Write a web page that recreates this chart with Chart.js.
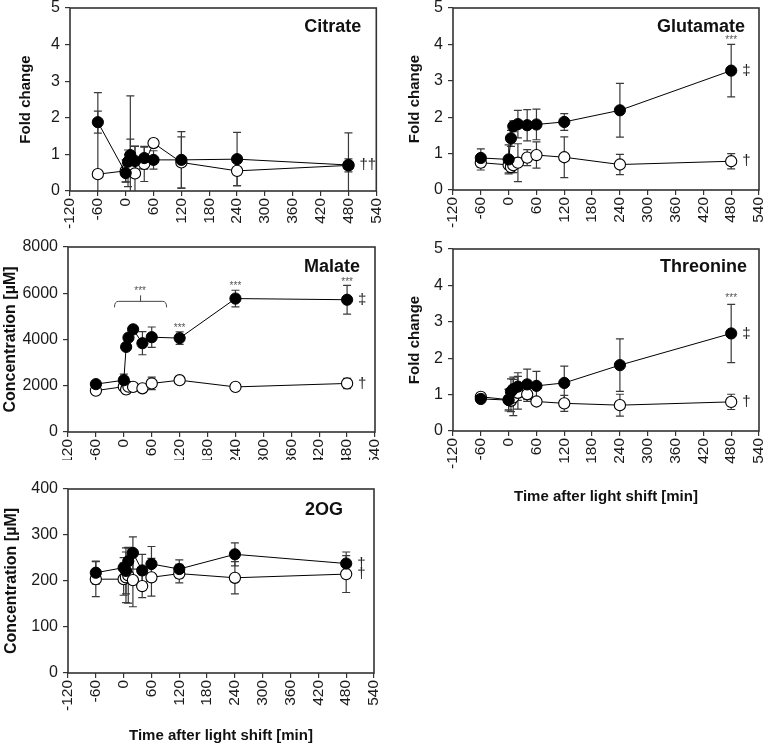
<!DOCTYPE html>
<html>
<head>
<meta charset="utf-8">
<script src="https://cdn.jsdelivr.net/npm/chart.js@4.4.1/dist/chart.umd.min.js"></script>
<style>
  html, body { margin: 0; padding: 0; background: #fff; overflow: hidden; }
  #wrap { position: relative; width: 766px; height: 745px; }
  canvas { position: absolute; }
</style>
</head>
<body>
<div id="wrap">
  <canvas id="citrate"></canvas>
  <canvas id="glutamate"></canvas>
  <canvas id="malate"></canvas>
  <canvas id="threonine"></canvas>
  <canvas id="og"></canvas>
</div>
<script>
// sampling times (min after light shift)
const times = [-60, 0, 5, 10, 20, 40, 60, 120, 240, 480];
const xTickValues = [-120, -60, 0, 60, 120, 180, 240, 300, 360, 420, 480, 540];

// filled circles = light shift, open circles = control
const citrateShift = [1.88, 0.49, 0.80, 0.98, 0.82, 0.90, 0.85, 0.85, 0.87, 0.71];
const citrateShiftSd = [0.30, 0.25, 0.20, 0.44, 0.40, 0.30, 0.25, 0.77, 0.73, 0.88];
const citrateCtrl = [0.46, 0.55, 0.62, 0.70, 0.48, 0.74, 1.31, 0.78, 0.55, 0.70];
const citrateCtrlSd = [2.23, 0.30, 0.50, 1.90, 0.75, 0.48, 0.10, 0.70, 0.40, 0.18];

const glutamateShift = [0.88, 0.84, 1.42, 1.75, 1.81, 1.78, 1.80, 1.87, 2.19, 3.28];
const glutamateShiftSd = [0.25, 0.40, 0.22, 0.15, 0.38, 0.43, 0.42, 0.23, 0.74, 0.72];
const glutamateCtrl = [0.75, 0.69, 0.63, 0.68, 0.75, 0.89, 0.96, 0.90, 0.70, 0.79];
const glutamateCtrlSd = [0.20, 0.22, 0.15, 0.20, 0.52, 0.22, 0.36, 0.56, 0.28, 0.21];

const malateShift = [2070, 2240, 3680, 4080, 4440, 3840, 4100, 4060, 5770, 5720];
const malateShiftSd = [120, 260, 150, 150, 100, 500, 440, 270, 360, 620];
const malateCtrl = [1790, 1960, 1840, 1960, 1950, 1890, 2100, 2240, 1950, 2100];
const malateCtrlSd = [80, 150, 180, 120, 100, 150, 270, 80, 80, 220];

const threonineShift = [0.88, 0.85, 1.08, 1.15, 1.22, 1.28, 1.24, 1.32, 1.81, 2.68];
const threonineShiftSd = [0.08, 0.30, 0.35, 0.33, 0.38, 0.42, 0.40, 0.46, 0.72, 0.80];
const threonineCtrl = [0.94, 0.86, 0.83, 0.92, 1.05, 1.01, 0.81, 0.76, 0.71, 0.80];
const threonineCtrlSd = [0.10, 0.28, 0.30, 0.50, 0.45, 0.20, 0.05, 0.22, 0.30, 0.21];

const ogShift = [218, 229, 222, 243, 261, 223, 237, 226, 258, 238];
const ogShiftSd = [25, 22, 50, 30, 35, 35, 38, 20, 25, 25];
const ogCtrl = [204, 204, 208, 212, 202, 189, 208, 216, 207, 215];
const ogCtrlSd = [38, 35, 55, 60, 58, 25, 41, 20, 35, 40];

// significance marks: [time, value, text]
const glutamateSig = [[480, 4.17, '***'], [480, 3.28, '‡'], [480, 0.79, '†']];
const citrateSig = [[480, 0.71, '††']];
const malateSig = [[35, 6160, '***'], [120, 4570, '***'], [240, 6380, '***'], [480, 6560, '***'], [480, 5720, '‡'], [480, 2100, '†']];
const malateBracket = [-20, 92, 5650];
const threonineSig = [[480, 3.69, '***'], [480, 2.68, '‡'], [480, 0.80, '†']];
const ogSig = [[480, 238, '†'], [480, 215, '†']];

const FONT = "'Liberation Sans', Arial, sans-serif";

function pts(vals) {
  return vals.map((v, i) => ({ x: times[i], y: v }));
}

const extras = {
  id: 'extras',
  beforeDatasetsDraw(chart) {
    const { ctx, chartArea: a, scales: { x, y } } = chart;
    ctx.save();
    ctx.beginPath();
    ctx.rect(a.left, a.top - 1, a.right - a.left, a.bottom - a.top + 1);
    ctx.clip();
    ctx.strokeStyle = '#3a3a3a';
    ctx.lineWidth = 1.2;
    chart.data.datasets.forEach(ds => {
      ds.data.forEach((p, i) => {
        const px = x.getPixelForValue(p.x);
        const t = y.getPixelForValue(p.y + ds.sd[i]);
        const b = y.getPixelForValue(p.y - ds.sd[i]);
        ctx.beginPath();
        ctx.moveTo(px, t); ctx.lineTo(px, b);
        ctx.moveTo(px - 4, t); ctx.lineTo(px + 4, t);
        ctx.moveTo(px - 4, b); ctx.lineTo(px + 4, b);
        ctx.stroke();
      });
    });
    ctx.restore();
  },
  afterDraw(chart) {
    const o = chart.options.plugins.extras;
    const { ctx, chartArea: a, scales: { x, y } } = chart;
    ctx.save();
    ctx.strokeStyle = '#333';
    ctx.lineWidth = 1.6;
    ctx.strokeRect(a.left, a.top, a.right - a.left, a.bottom - a.top);

    ctx.fillStyle = '#111';
    ctx.font = 'bold 18px ' + FONT;
    ctx.textAlign = 'right';
    ctx.textBaseline = 'middle';
    ctx.fillText(o.title, a.right - o.titleRight, a.top + o.titleDy);

    o.sig.forEach(([t, v, txt]) => {
      const px = x.getPixelForValue(t), py = y.getPixelForValue(v);
      if (txt === '***') {
        ctx.font = '10px ' + FONT;
        ctx.fillStyle = '#555';
        ctx.textAlign = 'center';
        ctx.fillText(txt, px, py + 2);
      } else {
        ctx.font = '15px ' + FONT;
        ctx.fillStyle = '#222';
        ctx.textAlign = 'left';
        ctx.fillText(txt, px + 11, py);
      }
    });

    if (o.bracket) {
      const [x0, x1, v] = o.bracket;
      const l = x.getPixelForValue(x0), r = x.getPixelForValue(x1);
      const m = (l + r) / 2, py = y.getPixelForValue(v);
      ctx.strokeStyle = '#444';
      ctx.lineWidth = 1;
      ctx.beginPath();
      ctx.moveTo(l, py + 6); ctx.quadraticCurveTo(l, py, l + 4, py);
      ctx.lineTo(r - 4, py); ctx.quadraticCurveTo(r, py, r, py + 6);
      ctx.moveTo(m, py); ctx.lineTo(m, py - 6);
      ctx.stroke();
    }
    ctx.restore();
  }
};

function makePanel(p) {
  const cv = document.getElementById(p.id);
  cv.width = p.box.w;
  cv.height = p.box.h;
  cv.style.left = p.box.l + 'px';
  cv.style.top = p.box.t + 'px';

  const yWidth = p.area.l - p.box.l - p.padL;
  const xHeight = p.box.t + p.box.h - p.area.b;

  new Chart(cv, {
    type: 'scatter',
    data: {
      datasets: [
        {
          data: pts(p.shift), sd: p.shiftSd,
          showLine: true, borderColor: '#000', borderWidth: 1,
          pointRadius: 5.6, pointBackgroundColor: '#000', pointBorderColor: '#000', pointBorderWidth: 1
        },
        {
          data: pts(p.ctrl), sd: p.ctrlSd,
          showLine: true, borderColor: '#000', borderWidth: 1,
          pointRadius: 5.6, pointBackgroundColor: '#fff', pointBorderColor: '#000', pointBorderWidth: 1.1
        }
      ]
    },
    options: {
      responsive: false,
      animation: false,
      devicePixelRatio: 1,
      layout: {
        padding: {
          left: p.padL,
          top: p.area.t - p.box.t,
          right: p.box.l + p.box.w - p.area.r,
          bottom: 0
        }
      },
      plugins: {
        legend: { display: false },
        tooltip: { enabled: false },
        extras: { title: p.title, titleRight: p.titleRight, titleDy: p.titleDy, sig: p.sig, bracket: p.bracket }
      },
      scales: {
        x: {
          type: 'linear', min: -120, max: 540,
          afterBuildTicks: s => { s.ticks = xTickValues.map(v => ({ value: v })); },
          afterFit: s => { s.height = xHeight; s.paddingLeft = 0; s.paddingRight = 0; },
          ticks: {
            minRotation: 90, maxRotation: 90, padding: 2,
            color: '#1a1a1a', font: { family: FONT, size: 15.5 },
            callback: v => String(v)
          },
          grid: { display: true, drawOnChartArea: false, drawTicks: true, tickLength: 5, tickColor: '#333', lineWidth: 1.2 },
          border: { display: false },
          title: {
            display: !!p.xTitle, text: p.xTitle || '', color: '#111',
            font: { family: FONT, size: 15, weight: 'bold' },
            padding: { top: 4, bottom: p.xTitlePadB }
          }
        },
        y: {
          min: 0, max: p.yMax,
          ticks: {
            stepSize: p.yStep, padding: 5,
            color: '#1a1a1a', font: { family: FONT, size: 16 },
            callback: v => String(v)
          },
          afterFit: s => { s.width = yWidth; s.paddingTop = 0; s.paddingBottom = 0; },
          grid: { display: true, drawOnChartArea: false, drawTicks: true, tickLength: 5, tickColor: '#333', lineWidth: 1.2 },
          border: { display: false },
          title: {
            display: true, text: p.yTitle, color: '#111',
            font: { family: FONT, size: p.yTitleSize, weight: 'bold' },
            padding: { top: p.yTitlePad, bottom: 2 }
          }
        }
      }
    },
    plugins: [extras]
  });
}

makePanel({
  id: 'citrate', title: 'Citrate', titleRight: 15, titleDy: 19,
  box: { l: 0, t: 0, w: 383, h: 230 }, area: { l: 70, t: 8, r: 377, b: 191 }, padL: 13,
  yMax: 5, yStep: 1, yTitle: 'Fold change', yTitleSize: 15, yTitlePad: 4,
  shift: citrateShift, shiftSd: citrateShiftSd, ctrl: citrateCtrl, ctrlSd: citrateCtrlSd,
  sig: citrateSig
});

makePanel({
  id: 'glutamate', title: 'Glutamate', titleRight: 14, titleDy: 19,
  box: { l: 383, t: 0, w: 383, h: 230 }, area: { l: 453, t: 8, r: 759, b: 190 }, padL: 19,
  yMax: 5, yStep: 1, yTitle: 'Fold change', yTitleSize: 15, yTitlePad: 4,
  shift: glutamateShift, shiftSd: glutamateShiftSd, ctrl: glutamateCtrl, ctrlSd: glutamateCtrlSd,
  sig: glutamateSig
});

makePanel({
  id: 'malate', title: 'Malate', titleRight: 15, titleDy: 20,
  box: { l: 0, t: 230, w: 383, h: 230 }, area: { l: 68, t: 247, r: 375, b: 432 }, padL: 0,
  yMax: 8000, yStep: 2000, yTitle: 'Concentration [µM]', yTitleSize: 16, yTitlePad: 1,
  shift: malateShift, shiftSd: malateShiftSd, ctrl: malateCtrl, ctrlSd: malateCtrlSd,
  sig: malateSig, bracket: malateBracket
});

makePanel({
  id: 'threonine', title: 'Threonine', titleRight: 12, titleDy: 18,
  box: { l: 383, t: 230, w: 383, h: 280 }, area: { l: 453, t: 249, r: 759, b: 431 }, padL: 19,
  yMax: 5, yStep: 1, yTitle: 'Fold change', yTitleSize: 15, yTitlePad: 4,
  xTitle: 'Time after light shift [min]', xTitlePadB: 4,
  shift: threonineShift, shiftSd: threonineShiftSd, ctrl: threonineCtrl, ctrlSd: threonineCtrlSd,
  sig: threonineSig
});

makePanel({
  id: 'og', title: '2OG', titleRight: 31, titleDy: 21,
  box: { l: 0, t: 460, w: 383, h: 285 }, area: { l: 68, t: 489, r: 374, b: 673 }, padL: 1,
  yMax: 400, yStep: 100, yTitle: 'Concentration [µM]', yTitleSize: 16, yTitlePad: 1,
  xTitle: 'Time after light shift [min]', xTitlePadB: 0,
  shift: ogShift, shiftSd: ogShiftSd, ctrl: ogCtrl, ctrlSd: ogCtrlSd,
  sig: ogSig
});
</script>
</body>
</html>
